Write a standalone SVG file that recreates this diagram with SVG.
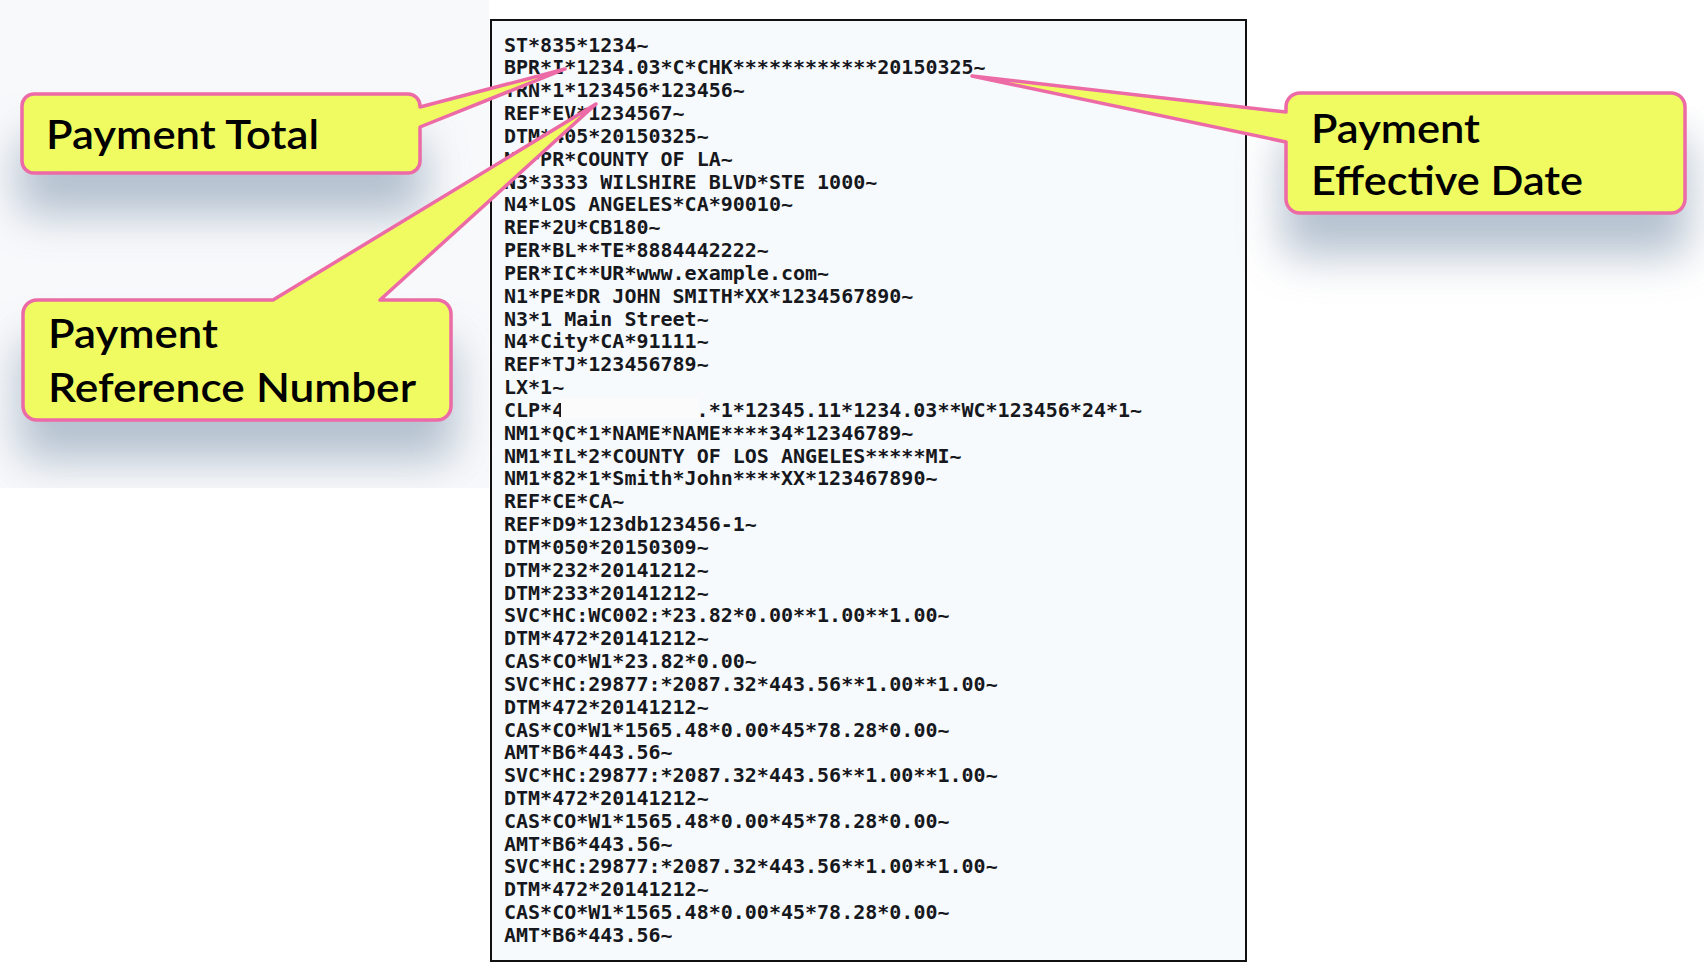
<svg xmlns="http://www.w3.org/2000/svg" width="1704" height="980" viewBox="0 0 1704 980">
<style>
.edi{font-family:"DejaVu Sans Mono","Liberation Mono",monospace;font-size:20px;font-weight:bold;fill:#16181d}
.lbl{font-family:Lato,"Liberation Sans",sans-serif;font-size:41px;font-weight:600;fill:#000}
.callout{fill:#f0fb62;stroke:#ec6aa5;stroke-width:3.5;stroke-linejoin:round}
.shadow{fill:#a3b2c4;opacity:0.8;filter:url(#blur)}
</style>
<defs>
<filter id="blur" x="-40%" y="-80%" width="180%" height="260%"><feGaussianBlur stdDeviation="22"/></filter>
<clipPath id="leftClip"><rect x="0" y="0" width="489" height="488"/></clipPath>
<clipPath id="rightClip"><rect x="940" y="107" width="764" height="873"/></clipPath>
</defs>
<rect x="0" y="0" width="1704" height="980" fill="#ffffff"/>
<rect x="0" y="0" width="489" height="488" fill="#f8f9fb"/>
<g id="document">
<rect x="491" y="20" width="755" height="941" fill="#f7fafc" stroke="#111" stroke-width="2"/>
</g>
<g id="shadows">
<g clip-path="url(#leftClip)">
<rect class="shadow" x="18" y="136" width="406" height="79" rx="14"/>
<rect class="shadow" x="19" y="340" width="436" height="120" rx="14"/>
</g>
<g clip-path="url(#rightClip)">
<rect class="shadow" x="1282" y="136" width="407" height="120" rx="14"/>
</g>
</g>
<g id="edi-text" class="edi">
<text x="504" y="51.6">ST*835*1234~</text>
<text x="504" y="74.43">BPR*I*1234.03*C*CHK************20150325~</text>
<text x="504" y="97.26">TRN*1*123456*123456~</text>
<text x="504" y="120.09">REF*EV*1234567~</text>
<text x="504" y="142.92">DTM*405*20150325~</text>
<text x="504" y="165.75">N1*PR*COUNTY OF LA~</text>
<text x="504" y="188.58">N3*3333 WILSHIRE BLVD*STE 1000~</text>
<text x="504" y="211.41">N4*LOS ANGELES*CA*90010~</text>
<text x="504" y="234.24">REF*2U*CB180~</text>
<text x="504" y="257.07">PER*BL**TE*8884442222~</text>
<text x="504" y="279.9">PER*IC**UR*www.example.com~</text>
<text x="504" y="302.73">N1*PE*DR JOHN SMITH*XX*1234567890~</text>
<text x="504" y="325.56">N3*1 Main Street~</text>
<text x="504" y="348.39">N4*City*CA*91111~</text>
<text x="504" y="371.22">REF*TJ*123456789~</text>
<text x="504" y="394.05">LX*1~</text>
<text x="504" y="416.88">CLP*4</text>
<text x="696.6" y="416.88">.*1*12345.11*1234.03**WC*123456*24*1~</text>
<text x="504" y="439.71">NM1*QC*1*NAME*NAME****34*12346789~</text>
<text x="504" y="462.54">NM1*IL*2*COUNTY OF LOS ANGELES*****MI~</text>
<text x="504" y="485.37">NM1*82*1*Smith*John****XX*123467890~</text>
<text x="504" y="508.2">REF*CE*CA~</text>
<text x="504" y="531.03">REF*D9*123db123456-1~</text>
<text x="504" y="553.86">DTM*050*20150309~</text>
<text x="504" y="576.69">DTM*232*20141212~</text>
<text x="504" y="599.52">DTM*233*20141212~</text>
<text x="504" y="622.35">SVC*HC:WC002:*23.82*0.00**1.00**1.00~</text>
<text x="504" y="645.18">DTM*472*20141212~</text>
<text x="504" y="668.01">CAS*CO*W1*23.82*0.00~</text>
<text x="504" y="690.84">SVC*HC:29877:*2087.32*443.56**1.00**1.00~</text>
<text x="504" y="713.67">DTM*472*20141212~</text>
<text x="504" y="736.5">CAS*CO*W1*1565.48*0.00*45*78.28*0.00~</text>
<text x="504" y="759.33">AMT*B6*443.56~</text>
<text x="504" y="782.16">SVC*HC:29877:*2087.32*443.56**1.00**1.00~</text>
<text x="504" y="804.99">DTM*472*20141212~</text>
<text x="504" y="827.82">CAS*CO*W1*1565.48*0.00*45*78.28*0.00~</text>
<text x="504" y="850.65">AMT*B6*443.56~</text>
<text x="504" y="873.48">SVC*HC:29877:*2087.32*443.56**1.00**1.00~</text>
<text x="504" y="896.31">DTM*472*20141212~</text>
<text x="504" y="919.14">CAS*CO*W1*1565.48*0.00*45*78.28*0.00~</text>
<text x="504" y="941.97">AMT*B6*443.56~</text>
</g>
<rect id="redaction" x="561" y="398" width="138" height="21" fill="#fbfbfc"/>
<g id="connectors"></g>
<g id="callout-payment-total">
<path class="callout" d="M34,94 H408 A12,12 0 0 1 420,106 L420,107 L565,69 L420,127 V161 A12,12 0 0 1 408,173 H34 A12,12 0 0 1 22,161 V106 A12,12 0 0 1 34,94 Z"/>
<text class="lbl" x="46" y="149" textLength="273" lengthAdjust="spacingAndGlyphs">Payment Total</text>
</g>
<g id="callout-reference-number">
<path class="callout" d="M37,300 H273 L596,104 L380,300 H437 A14,14 0 0 1 451,314 V406 A14,14 0 0 1 437,420 H37 A14,14 0 0 1 23,406 V314 A14,14 0 0 1 37,300 Z"/>
<text class="lbl" x="48" y="348" textLength="170" lengthAdjust="spacingAndGlyphs">Payment</text>
<text class="lbl" x="48" y="401.7" textLength="368" lengthAdjust="spacingAndGlyphs">Reference Number</text>
</g>
<g id="callout-effective-date">
<path class="callout" d="M1300,93 H1671 A14,14 0 0 1 1685,107 V199 A14,14 0 0 1 1671,213 H1300 A14,14 0 0 1 1286,199 V142 L972,76 L1286,112 V107 A14,14 0 0 1 1300,93 Z"/>
<text class="lbl" x="1311" y="142.7" textLength="169" lengthAdjust="spacingAndGlyphs">Payment</text>
<text class="lbl" x="1311" y="195" textLength="272" lengthAdjust="spacingAndGlyphs">Effective Date</text>
</g>
</svg>
